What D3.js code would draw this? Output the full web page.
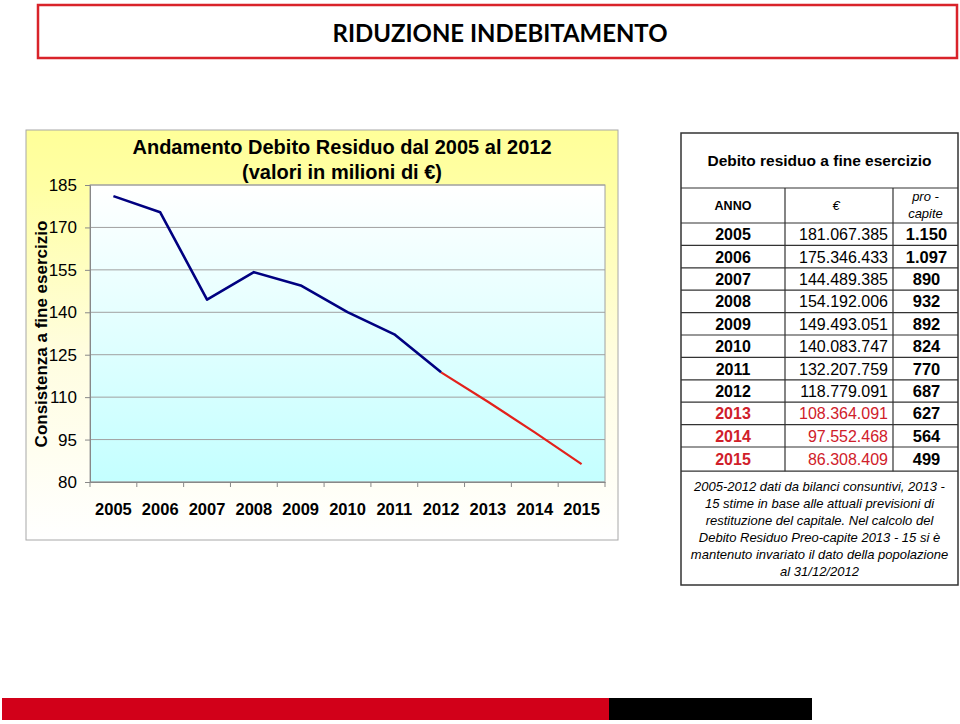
<!DOCTYPE html>
<html><head><meta charset="utf-8">
<script src="https://cdn.jsdelivr.net/npm/d3@7"></script>
<style>body{margin:0;background:#fff}svg{display:block}</style>
</head><body><svg id="c" width="960" height="724"></svg>
<script>
// ---- data ----
const anni = ["2005","2006","2007","2008","2009","2010","2011","2012","2013","2014","2015"];
const debitoEuro = [181067385,175346433,144489385,154192006,149493051,140083747,132207759,118779091,108364091,97552468,86308409];
const proCapite = [1150,1097,890,932,892,824,770,687,627,564,499];
const yTicks = [80,95,110,125,140,155,170,185];
const ultimoConsuntivo = "2012";
const titolo = "RIDUZIONE INDEBITAMENTO";
const titoloGrafico = ["Andamento Debito Residuo dal 2005 al 2012","(valori in milioni di €)"];
const titoloAsseY = "Consistenza a fine esercizio";
const titoloTabella = "Debito residuo a fine esercizio";
const intestazioni = ["ANNO","€",["pro -","capite"]];
const nota = ["2005-2012 dati da bilanci consuntivi, 2013 -","15 stime in base alle attuali previsioni di","restituzione del capitale. Nel calcolo del","Debito Residuo Preo-capite 2013 - 15 si è","mantenuto invariato il dato della popolazione","al 31/12/2012"];

const locale = d3.formatLocale({decimal:",",thousands:".",grouping:[3],currency:["€",""]});
const fmt = locale.format(",d");
const FONT = "'Liberation Sans', Arial, Helvetica, sans-serif";
const RED = "#d0202a";

const svg = d3.select("#c").style("font-family", FONT);
const defs = svg.append("defs");

// ---- title box ----
svg.append("rect").attr("x",38).attr("y",5).attr("width",919).attr("height",53)
  .attr("fill","#fff").attr("stroke","#d9232a").attr("stroke-width",2.5);
svg.append("text").attr("x",500).attr("y",42).attr("text-anchor","middle")
  .style("font-family","Lato,'Open Sans',sans-serif")
  .style("font-weight","bold").style("font-size","24px")
  .attr("textLength",335).attr("lengthAdjust","spacingAndGlyphs")
  .text(titolo);

// ---- chart frame ----
const gA = defs.append("linearGradient").attr("id","gA").attr("x1",0).attr("y1",0).attr("x2",0).attr("y2",1);
gA.append("stop").attr("offset","0%").attr("stop-color","#ffff99");
gA.append("stop").attr("offset","14%").attr("stop-color","#ffffa4");
gA.append("stop").attr("offset","55%").attr("stop-color","#fffde0");
gA.append("stop").attr("offset","100%").attr("stop-color","#ffffff");
const gP = defs.append("linearGradient").attr("id","gP").attr("x1",0).attr("y1",0).attr("x2",0).attr("y2",1);
gP.append("stop").attr("offset","0%").attr("stop-color","#ffffff");
gP.append("stop").attr("offset","100%").attr("stop-color","#c4ffff");

svg.append("rect").attr("x",26).attr("y",130).attr("width",592).attr("height",410)
  .attr("fill","url(#gA)").attr("stroke","#a8a8a8").attr("stroke-width",1);

const x = d3.scaleBand().domain(anni).range([90,605]);
const y = d3.scaleLinear().domain([80,185]).range([482,185]);

svg.append("rect").attr("x",90).attr("y",185).attr("width",515).attr("height",297)
  .attr("fill","url(#gP)").attr("stroke","#a0a0a0").attr("stroke-width",1);

// gridlines
svg.append("g").selectAll("line").data(yTicks).join("line")
  .attr("x1",90).attr("x2",605).attr("y1",d=>y(d)).attr("y2",d=>y(d))
  .attr("stroke","#a0a0a0").attr("stroke-width",1);

// y axis
const yAx = svg.append("g").attr("transform","translate(90,0)")
  .call(d3.axisLeft(y).tickValues(yTicks).tickSize(5).tickPadding(8).tickFormat(d3.format("d")));
yAx.select(".domain").attr("stroke","#888");
yAx.selectAll(".tick line").attr("stroke","#888");
yAx.selectAll("text").style("font-size","17px").style("font-family",FONT).attr("fill","#000");

// x axis
const xAx = svg.append("g").attr("transform","translate(0,482)")
  .call(d3.axisBottom(x).tickSize(0).tickPadding(21));
xAx.select(".domain").attr("stroke","#888");
xAx.selectAll("text").style("font-size","16.5px").style("font-weight","bold").style("font-family",FONT).attr("fill","#000");
const edges = anni.map(d=>x(d)).concat([x.range()[1]]);
svg.append("g").selectAll("line").data(edges).join("line")
  .attr("x1",d=>d).attr("x2",d=>d).attr("y1",482).attr("y2",487)
  .attr("stroke","#888");

// lines
const pts = anni.map((a,i)=>({anno:a, v:debitoEuro[i]/1e6}));
const k = anni.indexOf(ultimoConsuntivo);
const line = d3.line().x(d=>x(d.anno)+x.bandwidth()/2).y(d=>y(d.v));
svg.append("path").attr("d",line(pts.slice(k))).attr("fill","none")
  .attr("stroke","#e3211c").attr("stroke-width",2.2).attr("stroke-linejoin","round");
svg.append("path").attr("d",line(pts.slice(0,k+1))).attr("fill","none")
  .attr("stroke","#000080").attr("stroke-width",2.6).attr("stroke-linejoin","round");

// chart titles
svg.append("text").attr("x",342).attr("y",154).attr("text-anchor","middle")
  .style("font-size","20px").style("font-weight","bold").text(titoloGrafico[0]);
svg.append("text").attr("x",342).attr("y",179).attr("text-anchor","middle")
  .style("font-size","20px").style("font-weight","bold").text(titoloGrafico[1]);
svg.append("text").attr("transform","translate(47,334) rotate(-90)").attr("text-anchor","middle")
  .style("font-size","17px").style("font-weight","bold").text(titoloAsseY);

// ---- table ----
const tL=681, tR=958, tT=133, tB=585, c1=785, c2=893;
const hTop=188, hBot=223, rowH=22.4, lastH=24.2;
const rowTops = anni.map((a,i)=>hBot+i*rowH);
const tEnd = hBot + (anni.length-1)*rowH + lastH;
const tb = svg.append("g");
tb.append("rect").attr("x",tL).attr("y",tT).attr("width",tR-tL).attr("height",tB-tT)
  .attr("fill","#fff").attr("stroke","#333").attr("stroke-width",1.5);
const hLines = [hTop,hBot].concat(rowTops.slice(1)).concat([tEnd]);
tb.selectAll("line.h").data(hLines).join("line").attr("class","h")
  .attr("x1",tL).attr("x2",tR).attr("y1",d=>d).attr("y2",d=>d).attr("stroke","#333").attr("stroke-width",1.2);
tb.selectAll("line.v").data([c1,c2]).join("line").attr("class","v")
  .attr("x1",d=>d).attr("x2",d=>d).attr("y1",hTop).attr("y2",tEnd).attr("stroke","#333").attr("stroke-width",1.2);

tb.append("text").attr("x",(tL+tR)/2).attr("y",166).attr("text-anchor","middle")
  .style("font-size","15.5px").style("font-weight","bold").text(titoloTabella);
tb.append("text").attr("x",(tL+c1)/2).attr("y",210).attr("text-anchor","middle")
  .style("font-size","12.5px").style("font-weight","bold").text(intestazioni[0]);
tb.append("text").attr("x",836).attr("y",210).attr("text-anchor","middle")
  .style("font-size","13px").style("font-style","italic").text(intestazioni[1]);
intestazioni[2].forEach((s,i)=>tb.append("text").attr("x",(c2+tR)/2).attr("y",201+i*17).attr("text-anchor","middle")
  .style("font-size","13px").style("font-style","italic").text(s));

const kIdx = anni.indexOf(ultimoConsuntivo);
anni.forEach((a,i)=>{
  const h = i===anni.length-1 ? lastH : rowH;
  const by = rowTops[i] + h/2 + 6;
  const col = i>kIdx ? RED : "#000";
  tb.append("text").attr("x",(tL+c1)/2).attr("y",by).attr("text-anchor","middle")
    .style("font-size","16px").style("font-weight","bold").attr("fill",col).text(a);
  tb.append("text").attr("x",888).attr("y",by).attr("text-anchor","end")
    .style("font-size","16px").attr("fill",col).text(fmt(debitoEuro[i]));
  tb.append("text").attr("x",(c2+tR)/2+1).attr("y",by).attr("text-anchor","middle")
    .style("font-size","16.5px").style("font-weight","bold").attr("fill","#000").text(fmt(proCapite[i]));
});

nota.forEach((s,i)=>tb.append("text").attr("x",(tL+tR)/2).attr("y",491+i*17).attr("text-anchor","middle")
  .style("font-size","13px").style("font-style","italic").text(s));

// ---- bottom bar ----
svg.append("rect").attr("x",2).attr("y",698).attr("width",607).attr("height",22).attr("fill","#d20019");
svg.append("rect").attr("x",609).attr("y",698).attr("width",203).attr("height",22).attr("fill","#000");
</script></body></html>
